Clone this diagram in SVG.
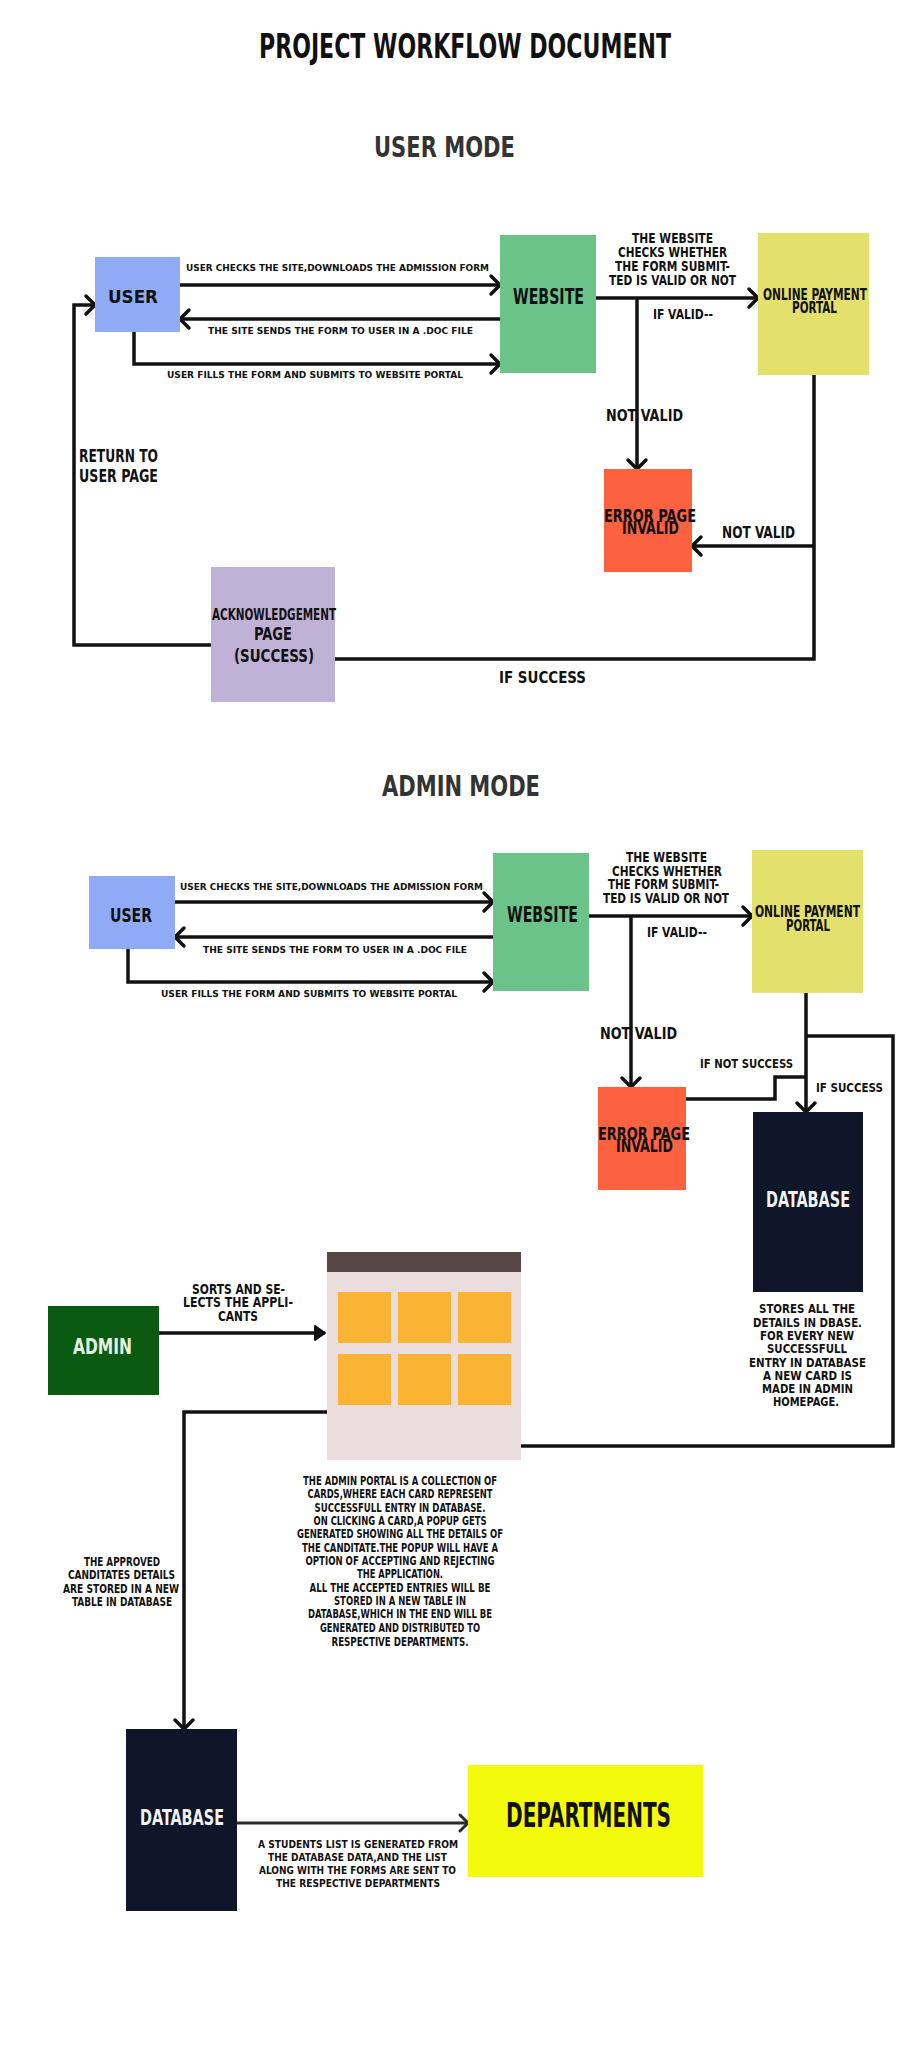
<svg xmlns="http://www.w3.org/2000/svg" width="911" height="2048" viewBox="0 0 911 2048">
  <style>
    .t { font-family: "Liberation Sans Narrow", "DejaVu Sans Condensed", "Liberation Sans", sans-serif; font-weight: 700; fill: #111; }
    .head { fill: #333; }
    .light { fill: #f2f2f2; }
    .ln { fill: none; stroke: #111; stroke-width: 3.5; stroke-linejoin: miter; }
    .ln2 { fill: none; stroke: #2b2b2b; stroke-width: 3; }
    .arr { marker-end: url(#chev); }
    .arr2 { marker-end: url(#chev2); }
    .tri { marker-end: url(#tri); }
    .s9 { font-size: 9.5px; }
    .s11 { font-size: 11px; }
    .s12 { font-size: 12px; }
    .s13 { font-size: 13px; }
    .s14 { font-size: 13.5px; }
    .s15 { font-size: 15px; }
    .s16 { font-size: 16px; }
    .s18 { font-size: 18px; }
    .s21 { font-size: 21px; }
  </style>
  <defs>
    <marker id="chev" markerUnits="userSpaceOnUse" markerWidth="20" markerHeight="24" refX="13" refY="12" orient="auto" overflow="visible">
      <path d="M4,3 L13,12 L4,21" fill="none" stroke="#111" stroke-width="3.5" stroke-linecap="round" stroke-linejoin="round"/>
    </marker>
    <marker id="chev2" markerUnits="userSpaceOnUse" markerWidth="20" markerHeight="24" refX="13" refY="12" orient="auto" overflow="visible">
      <path d="M5,4 L13,12 L5,20" fill="none" stroke="#2b2b2b" stroke-width="3" stroke-linecap="round" stroke-linejoin="round"/>
    </marker>
    <marker id="tri" markerUnits="userSpaceOnUse" markerWidth="14" markerHeight="16" refX="11" refY="8" orient="auto" overflow="visible">
      <path d="M1,1 L11,8 L1,15 Z" fill="#111" stroke="#111" stroke-width="2" stroke-linejoin="round"/>
    </marker>
  </defs>

  <rect width="911" height="2048" fill="#ffffff"/>

  <!-- headings -->
  <g id="headings">
    <text class="t" x="259" y="58" font-size="34" textLength="412" lengthAdjust="spacingAndGlyphs">PROJECT WORKFLOW DOCUMENT</text>
    <text class="t head" x="374" y="157" font-size="28" textLength="141" lengthAdjust="spacingAndGlyphs">USER MODE</text>
    <text class="t head" x="382" y="796" font-size="28" textLength="158" lengthAdjust="spacingAndGlyphs">ADMIN MODE</text>
  </g>

  <!-- connectors and their labels -->
  <g id="connectors">
    <!-- user mode -->
    <path class="ln arr" d="M180,285 H500"/>
    <path class="ln arr" d="M500,319 H180"/>
    <path class="ln arr" d="M134,332 V364 H500"/>
    <path class="ln arr" d="M211,645 H74 V305 H95"/>
    <path class="ln" d="M814,375 V659 H335"/>
    <path class="ln arr" d="M814,546 H692"/>
    <path class="ln arr" d="M596,298 H758"/>
    <path class="ln arr" d="M637,298 V469"/>

    <text class="t s9" x="186" y="271" textLength="303" lengthAdjust="spacingAndGlyphs">USER CHECKS THE SITE,DOWNLOADS THE ADMISSION FORM</text>
    <text class="t s9" x="208" y="334" textLength="265" lengthAdjust="spacingAndGlyphs">THE SITE SENDS THE FORM TO USER IN A .DOC FILE</text>
    <text class="t s9" x="167" y="378" textLength="296" lengthAdjust="spacingAndGlyphs">USER FILLS THE FORM AND SUBMITS TO WEBSITE PORTAL</text>
    <text class="t s14" x="632" y="243" textLength="81" lengthAdjust="spacingAndGlyphs">THE WEBSITE</text>
    <text class="t s14" x="618" y="257" textLength="109" lengthAdjust="spacingAndGlyphs">CHECKS WHETHER</text>
    <text class="t s14" x="615" y="271" textLength="115" lengthAdjust="spacingAndGlyphs">THE FORM SUBMIT-</text>
    <text class="t s14" x="609" y="285" textLength="127" lengthAdjust="spacingAndGlyphs">TED IS VALID OR NOT</text>
    <text class="t s14" x="653" y="319" textLength="60" lengthAdjust="spacingAndGlyphs">IF VALID--</text>
    <text class="t s16" x="606" y="421" textLength="77" lengthAdjust="spacingAndGlyphs">NOT VALID</text>
    <text class="t s16" x="722" y="538" textLength="73" lengthAdjust="spacingAndGlyphs">NOT VALID</text>
    <text class="t s15" x="499" y="683" textLength="87" lengthAdjust="spacingAndGlyphs">IF SUCCESS</text>
    <text class="t" x="79" y="462" font-size="17" textLength="79" lengthAdjust="spacingAndGlyphs">RETURN TO</text>
    <text class="t" x="79" y="482" font-size="17" textLength="79" lengthAdjust="spacingAndGlyphs">USER PAGE</text>

    <!-- admin mode -->
    <path class="ln arr" d="M175,902 H493"/>
    <path class="ln arr" d="M493,937 H175"/>
    <path class="ln arr" d="M128,949 V982 H493"/>
    <path class="ln arr" d="M589,916 H752"/>
    <path class="ln arr" d="M631,916 V1087"/>
    <path class="ln arr" d="M806,993 V1112"/>
    <path class="ln" d="M686,1099 H775 V1077 H806"/>
    <path class="ln" d="M806,1036 H893 V1446 H521"/>
    <path class="ln tri" d="M159,1333 H325"/>
    <path class="ln arr" d="M327,1412 H184 V1729"/>
    <path class="ln2 arr2" d="M237,1823 H468"/>

    <text class="t s9" x="180" y="890" textLength="303" lengthAdjust="spacingAndGlyphs">USER CHECKS THE SITE,DOWNLOADS THE ADMISSION FORM</text>
    <text class="t s9" x="203" y="953" textLength="264" lengthAdjust="spacingAndGlyphs">THE SITE SENDS THE FORM TO USER IN A .DOC FILE</text>
    <text class="t s9" x="161" y="997" textLength="296" lengthAdjust="spacingAndGlyphs">USER FILLS THE FORM AND SUBMITS TO WEBSITE PORTAL</text>
    <text class="t s14" x="626" y="862" textLength="81" lengthAdjust="spacingAndGlyphs">THE WEBSITE</text>
    <text class="t s14" x="612" y="876" textLength="110" lengthAdjust="spacingAndGlyphs">CHECKS WHETHER</text>
    <text class="t s14" x="608" y="889" textLength="111" lengthAdjust="spacingAndGlyphs">THE FORM SUBMIT-</text>
    <text class="t s14" x="603" y="903" textLength="126" lengthAdjust="spacingAndGlyphs">TED IS VALID OR NOT</text>
    <text class="t s14" x="647" y="937" textLength="60" lengthAdjust="spacingAndGlyphs">IF VALID--</text>
    <text class="t s16" x="600" y="1039" textLength="77" lengthAdjust="spacingAndGlyphs">NOT VALID</text>
    <text class="t s13" x="700" y="1068" textLength="93" lengthAdjust="spacingAndGlyphs">IF NOT SUCCESS</text>
    <text class="t s13" x="816" y="1092" textLength="67" lengthAdjust="spacingAndGlyphs">IF SUCCESS</text>

    <text class="t s14" x="192" y="1294" textLength="93" lengthAdjust="spacingAndGlyphs">SORTS AND SE-</text>
    <text class="t s14" x="183" y="1307" textLength="110" lengthAdjust="spacingAndGlyphs">LECTS THE APPLI-</text>
    <text class="t s14" x="218" y="1321" textLength="40" lengthAdjust="spacingAndGlyphs">CANTS</text>

    <text class="t s12" x="84" y="1566" textLength="76" lengthAdjust="spacingAndGlyphs">THE APPROVED</text>
    <text class="t s12" x="68" y="1579" textLength="107" lengthAdjust="spacingAndGlyphs">CANDITATES DETAILS</text>
    <text class="t s12" x="63" y="1593" textLength="116" lengthAdjust="spacingAndGlyphs">ARE STORED IN A NEW</text>
    <text class="t s12" x="72" y="1606" textLength="100" lengthAdjust="spacingAndGlyphs">TABLE IN DATABASE</text>

    <text class="t s11" x="258" y="1848" textLength="200" lengthAdjust="spacingAndGlyphs">A STUDENTS LIST IS GENERATED FROM</text>
    <text class="t s11" x="268" y="1861" textLength="179" lengthAdjust="spacingAndGlyphs">THE DATABASE DATA,AND THE LIST</text>
    <text class="t s11" x="259" y="1874" textLength="197" lengthAdjust="spacingAndGlyphs">ALONG WITH THE FORMS ARE SENT TO</text>
    <text class="t s11" x="276" y="1887" textLength="164" lengthAdjust="spacingAndGlyphs">THE RESPECTIVE DEPARTMENTS</text>
  </g>

  <!-- user mode nodes -->
  <g id="um-user">
    <rect x="95" y="257" width="85" height="75" fill="#8fabf6"/>
    <text class="t" x="108" y="303" font-size="17" textLength="50" lengthAdjust="spacingAndGlyphs">USER</text>
  </g>
  <g id="um-website">
    <rect x="500" y="235" width="96" height="138" fill="#6bc38a"/>
    <text class="t" x="513" y="304" font-size="22" textLength="71" lengthAdjust="spacingAndGlyphs">WEBSITE</text>
  </g>
  <g id="um-payment">
    <rect x="758" y="233" width="111" height="142" fill="#e4e06c"/>
    <text class="t s15" x="763" y="300" textLength="104" lengthAdjust="spacingAndGlyphs">ONLINE PAYMENT</text>
    <text class="t s15" x="792" y="313" textLength="45" lengthAdjust="spacingAndGlyphs">PORTAL</text>
  </g>
  <g id="um-error">
    <rect x="604" y="469" width="88" height="103" fill="#fc6240"/>
    <text class="t s18" x="604" y="522" textLength="92" lengthAdjust="spacingAndGlyphs">ERROR PAGE</text>
    <text class="t s18" x="622" y="534" textLength="57" lengthAdjust="spacingAndGlyphs">INVALID</text>
  </g>
  <g id="um-ack">
    <rect x="211" y="567" width="124" height="135" fill="#c0b1d6"/>
    <text class="t s16" x="212" y="620" textLength="124" lengthAdjust="spacingAndGlyphs">ACKNOWLEDGEMENT</text>
    <text class="t s18" x="254" y="640" textLength="38" lengthAdjust="spacingAndGlyphs">PAGE</text>
    <text class="t s18" x="234" y="662" textLength="80" lengthAdjust="spacingAndGlyphs">(SUCCESS)</text>
  </g>

  <!-- admin mode nodes -->
  <g id="am-user">
    <rect x="89" y="876" width="86" height="73" fill="#8fabf6"/>
    <text class="t" x="110" y="922" font-size="19" textLength="42" lengthAdjust="spacingAndGlyphs">USER</text>
  </g>
  <g id="am-website">
    <rect x="493" y="853" width="96" height="138" fill="#6bc38a"/>
    <text class="t s21" x="507" y="922" textLength="71" lengthAdjust="spacingAndGlyphs">WEBSITE</text>
  </g>
  <g id="am-payment">
    <rect x="752" y="850" width="111" height="143" fill="#e4e06c"/>
    <text class="t s15" x="755" y="917" textLength="105" lengthAdjust="spacingAndGlyphs">ONLINE PAYMENT</text>
    <text class="t s15" x="786" y="931" textLength="44" lengthAdjust="spacingAndGlyphs">PORTAL</text>
  </g>
  <g id="am-error">
    <rect x="598" y="1087" width="88" height="103" fill="#fc6240"/>
    <text class="t s18" x="598" y="1140" textLength="92" lengthAdjust="spacingAndGlyphs">ERROR PAGE</text>
    <text class="t s18" x="616" y="1152" textLength="57" lengthAdjust="spacingAndGlyphs">INVALID</text>
  </g>
  <g id="am-database">
    <rect x="753" y="1112" width="110" height="180" fill="#101629"/>
    <text class="t s21 light" x="766" y="1207" textLength="84" lengthAdjust="spacingAndGlyphs">DATABASE</text>
    <text class="t s13" x="759" y="1313" textLength="96" lengthAdjust="spacingAndGlyphs">STORES ALL THE</text>
    <text class="t s13" x="753" y="1327" textLength="109" lengthAdjust="spacingAndGlyphs">DETAILS IN DBASE.</text>
    <text class="t s13" x="760" y="1340" textLength="94" lengthAdjust="spacingAndGlyphs">FOR EVERY NEW</text>
    <text class="t s13" x="767" y="1353" textLength="80" lengthAdjust="spacingAndGlyphs">SUCCESSFULL</text>
    <text class="t s13" x="749" y="1367" textLength="117" lengthAdjust="spacingAndGlyphs">ENTRY IN DATABASE</text>
    <text class="t s13" x="763" y="1380" textLength="89" lengthAdjust="spacingAndGlyphs">A NEW CARD IS</text>
    <text class="t s13" x="762" y="1393" textLength="91" lengthAdjust="spacingAndGlyphs">MADE IN ADMIN</text>
    <text class="t s13" x="773" y="1406" textLength="66" lengthAdjust="spacingAndGlyphs">HOMEPAGE.</text>
  </g>
  <g id="am-admin">
    <rect x="48" y="1306" width="111" height="89" fill="#0a5a12"/>
    <text class="t s21" x="73" y="1354" textLength="59" lengthAdjust="spacingAndGlyphs" style="fill:#e6f0e0">ADMIN</text>
  </g>
  <g id="am-portal">
    <rect x="327" y="1252" width="194" height="208" fill="#ebdddd"/>
    <rect x="327" y="1252" width="194" height="20" fill="#584646"/>
    <g fill="#fbb334">
      <rect x="338" y="1292" width="53" height="51"/>
      <rect x="398" y="1292" width="53" height="51"/>
      <rect x="458" y="1292" width="53" height="51"/>
      <rect x="338" y="1354" width="53" height="51"/>
      <rect x="398" y="1354" width="53" height="51"/>
      <rect x="458" y="1354" width="53" height="51"/>
    </g>
    <text class="t s12" x="303" y="1485" textLength="194" lengthAdjust="spacingAndGlyphs">THE ADMIN PORTAL IS A COLLECTION OF</text>
    <text class="t s12" x="307.5" y="1498" textLength="185" lengthAdjust="spacingAndGlyphs">CARDS,WHERE EACH CARD REPRESENT</text>
    <text class="t s12" x="314.5" y="1512" textLength="171" lengthAdjust="spacingAndGlyphs">SUCCESSFULL ENTRY IN DATABASE.</text>
    <text class="t s12" x="313.5" y="1525" textLength="173" lengthAdjust="spacingAndGlyphs">ON CLICKING A CARD,A POPUP GETS</text>
    <text class="t s12" x="297" y="1538" textLength="206" lengthAdjust="spacingAndGlyphs">GENERATED SHOWING ALL THE DETAILS OF</text>
    <text class="t s12" x="302" y="1552" textLength="196" lengthAdjust="spacingAndGlyphs">THE CANDITATE.THE POPUP WILL HAVE A</text>
    <text class="t s12" x="305.5" y="1565" textLength="189" lengthAdjust="spacingAndGlyphs">OPTION OF ACCEPTING AND REJECTING</text>
    <text class="t s12" x="357" y="1578" textLength="86" lengthAdjust="spacingAndGlyphs">THE APPLICATION.</text>
    <text class="t s12" x="309.5" y="1592" textLength="181" lengthAdjust="spacingAndGlyphs">ALL THE ACCEPTED ENTRIES WILL BE</text>
    <text class="t s12" x="334" y="1605" textLength="132" lengthAdjust="spacingAndGlyphs">STORED IN A NEW TABLE IN</text>
    <text class="t s12" x="308" y="1618" textLength="184" lengthAdjust="spacingAndGlyphs">DATABASE,WHICH IN THE END WILL BE</text>
    <text class="t s12" x="320" y="1632" textLength="160" lengthAdjust="spacingAndGlyphs">GENERATED AND DISTRIBUTED TO</text>
    <text class="t s12" x="331.5" y="1646" textLength="137" lengthAdjust="spacingAndGlyphs">RESPECTIVE DEPARTMENTS.</text>
  </g>
  <g id="am-database-approved">
    <rect x="126" y="1729" width="111" height="182" fill="#101629"/>
    <text class="t s21 light" x="140" y="1825" textLength="84" lengthAdjust="spacingAndGlyphs">DATABASE</text>
  </g>
  <g id="am-departments">
    <rect x="468" y="1765" width="235" height="112" fill="#f4fa0c"/>
    <text class="t" x="506" y="1827" font-size="33" textLength="165" lengthAdjust="spacingAndGlyphs">DEPARTMENTS</text>
  </g>
</svg>
